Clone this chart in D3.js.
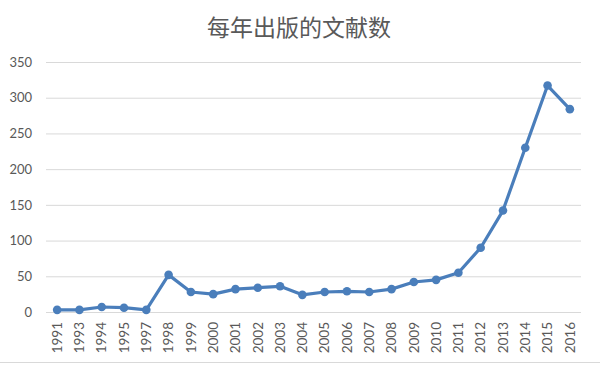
<!DOCTYPE html>
<html><head><meta charset="utf-8">
<script src="https://cdn.jsdelivr.net/npm/d3@7/dist/d3.min.js"></script>
<style>body{margin:0;background:#fff;}svg{display:block;}</style>
</head><body>
<svg id="c" width="600" height="365"></svg>
<script>
const years = ["1991","1993","1994","1995","1997","1998","1999","2000","2001","2002","2003","2004","2005","2006","2007","2008","2009","2010","2011","2012","2013","2014","2015","2016"];
const counts = [3,3,7,6,3,52,28,25,32,34,36,24,28,29,28,32,42,45,55,90,142,230,317,284];
const yTicks = [0,50,100,150,200,250,300,350];
const title = "每年出版的文献数";

const svg = d3.select("#c");
const m = {l:46, r:19, t:62, b:53};
const W = 600, H = 365;
const x = d3.scaleBand().domain(years).range([m.l, W - m.r]);
const y = d3.scaleLinear().domain([0,350]).range([312, 62]);
const font = "Lato, 'Noto Sans', sans-serif";

svg.append("text").attr("x", 299).attr("y", 36).attr("text-anchor","middle")
  .attr("font-family","'Noto Sans CJK SC', sans-serif").attr("font-size", 23)
  .attr("fill","#595959").text(title);

const ya = svg.append("g").attr("transform",`translate(${m.l},0)`)
  .call(d3.axisLeft(y).tickValues(yTicks).tickSize(-(W - m.r - m.l)).tickPadding(14));
ya.select(".domain").remove();
ya.selectAll("line").attr("stroke","#d9d9d9");
ya.selectAll("text").attr("font-family",font).attr("font-size",13).attr("fill","#595959");

const xa = svg.append("g").attr("transform",`translate(0,${y(0)})`)
  .call(d3.axisBottom(x).tickSize(0).tickPadding(0));
xa.select(".domain").remove();
xa.selectAll("text").attr("font-family",font).attr("font-size",13.5).attr("fill","#595959")
  .attr("text-anchor","end").attr("transform","rotate(-90)")
  .attr("x",-10).attr("y",0).attr("dy","0.35em");

svg.append("line").attr("x1",0).attr("x2",W).attr("y1",362.5).attr("y2",362.5).attr("stroke","#d9d9d9");

const data = years.map((d,i)=>({year:d, v:counts[i]}));
const line = d3.line().x(d=>x(d.year)+x.bandwidth()/2).y(d=>y(d.v));
svg.append("path").datum(data).attr("d",line).attr("fill","none")
  .attr("stroke","#4a7ebb").attr("stroke-width",3.2).attr("stroke-linejoin","round");
svg.selectAll("circle.p").data(data).enter().append("circle").attr("class","p")
  .attr("cx",d=>x(d.year)+x.bandwidth()/2).attr("cy",d=>y(d.v)).attr("r",4.3)
  .attr("fill","#4a7ebb");
</script>
</body></html>
